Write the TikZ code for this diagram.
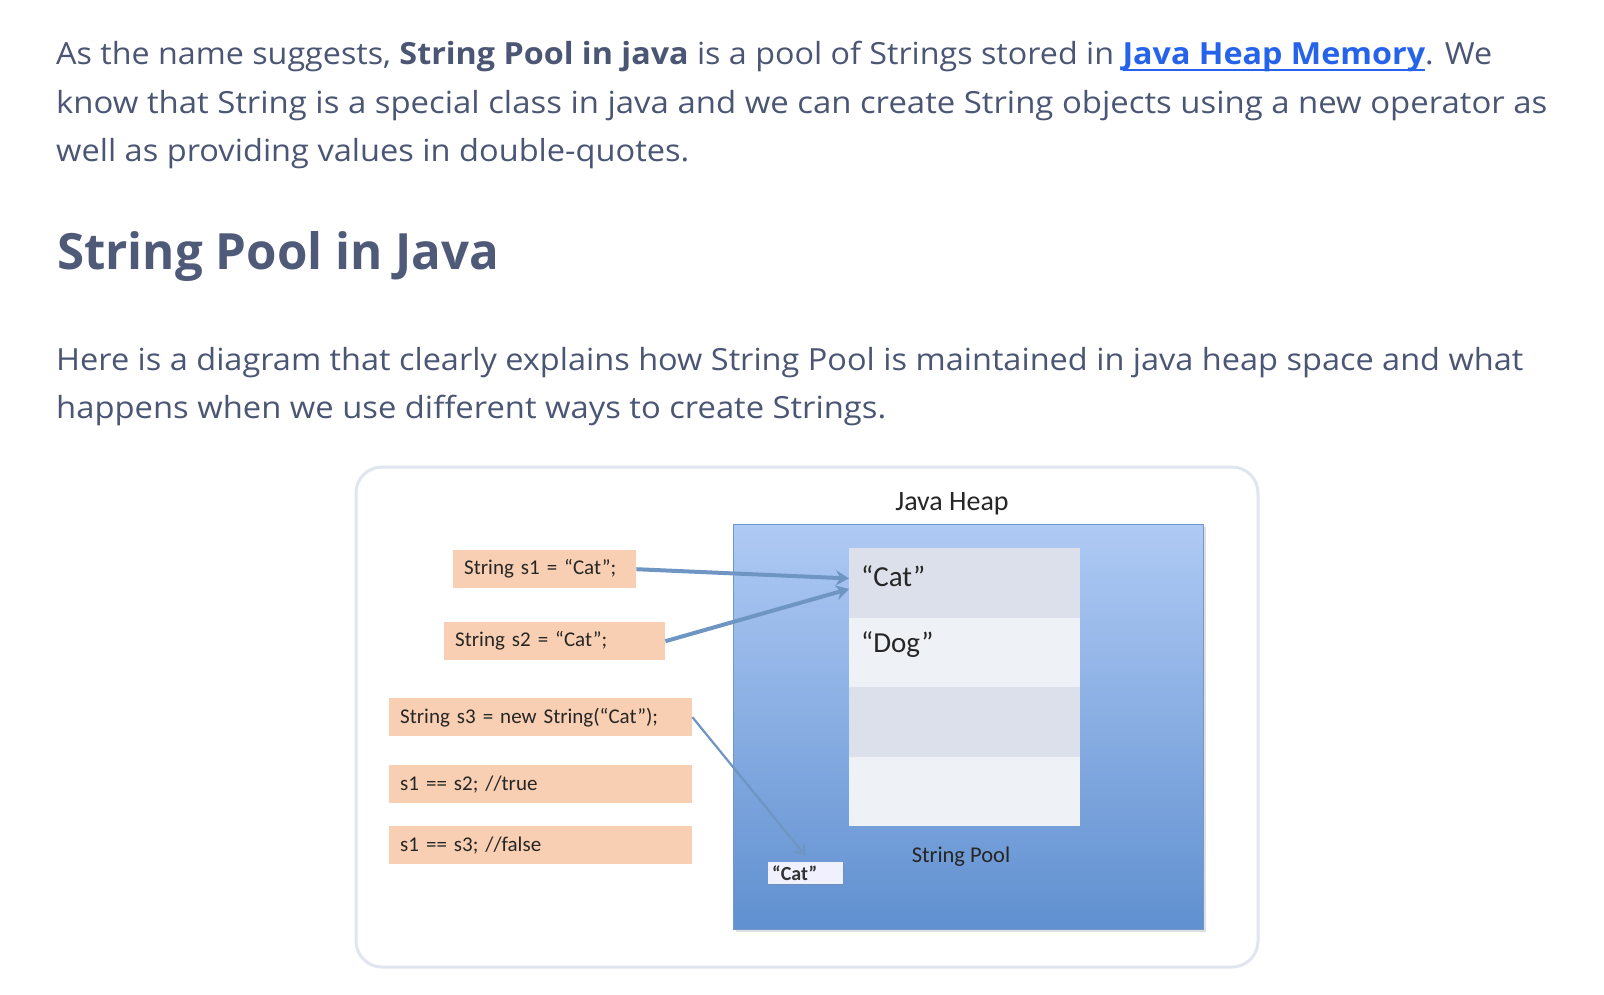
\documentclass[tikz,border=0pt]{standalone}
\usepackage{fontspec}
\usepackage{graphicx}
\setmainfont{Open Sans}
\newfontfamily\calfont{Carlito}
\usetikzlibrary{arrows.meta,shadows,calc}
\definecolor{bodytxt}{HTML}{4B5675}
\definecolor{headtxt}{HTML}{4F5A78}
\definecolor{linkblue}{HTML}{2563EB}
\definecolor{framec}{HTML}{E0E5EF}
\definecolor{peach}{HTML}{F8CFB2}
\definecolor{heaptop}{HTML}{AFCAF4}
\definecolor{heapbot}{HTML}{6090D0}
\definecolor{heapedge}{HTML}{7098CC}
\definecolor{rowdark}{HTML}{DCE0EA}
\definecolor{rowlight}{HTML}{EEF1F6}
\definecolor{arrowc}{HTML}{6F95C3}
\newcommand\linku[1]{\setbox0\hbox{#1}\rlap{\rule[-7pt]{\wd0}{2.5pt}}\box0}
\newcommand\fitw[2]{\resizebox{#1}{\height}{#2}}
\begin{document}
\begin{tikzpicture}[x=1pt,y=-1pt,
  bodyline/.style={anchor=base west, inner sep=0pt, text=bodytxt, font=\fontsize{30.5}{36}\selectfont},
  codebox/.style={anchor=north west, fill=peach, inner xsep=11pt, inner ysep=0pt, minimum height=38pt, align=left, font=\calfont\fontsize{21}{24}\selectfont, text=black!85},
  poolrow/.style={anchor=north west, minimum width=231pt, minimum height=69.5pt, inner sep=0pt},
  pooltxt/.style={anchor=west, inner sep=0pt, font=\calfont\fontsize{29}{34}\selectfont, text=black!85},
  arr/.style={draw=arrowc, line width=4pt, -{Stealth[length=13pt,width=15pt]}},
  thinarr/.style={draw=arrowc, line width=2.2pt, -{Straight Barb[length=8pt,width=11pt]}}
]
\useasboundingbox (0,0) rectangle (1604,994);
\fill[white] (0,0) rectangle (1604,994);
% text
\node[bodyline] (p1) at (56,64) {\fitw{1436pt}{As the name suggests, \textbf{String Pool in java} is a pool of Strings stored in \textcolor{linkblue}{\linku{\textbf{Java Heap Memory}}}. We}};
\node[bodyline] (p2) at (56,113) {\fitw{1491pt}{know that String is a special class in java and we can create String objects using a new operator as}};
\node[bodyline] (p3) at (56,161) {\fitw{633pt}{well as providing values in double-quotes.}};
\node[anchor=base west, inner sep=0pt, text=headtxt, font=\fontsize{50}{58}\selectfont\bfseries] (h) at (57,269) {\fitw{442pt}{String Pool in Java}};
\node[bodyline] (q1) at (56,370) {\fitw{1467pt}{Here is a diagram that clearly explains how String Pool is maintained in java heap space and what}};
\node[bodyline] (q2) at (56,418) {\fitw{830pt}{happens when we use different ways to create Strings.}};
% diagram frame
\draw[rounded corners=26pt, line width=3pt, draw=framec] (356,467) rectangle (1258,967);
\node[font=\calfont\fontsize{28}{32}\selectfont, text=black!85] (jh) at (952,504) {Java Heap};
\node[anchor=north west, minimum width=470pt, minimum height=405pt, top color=heaptop, bottom color=heapbot, draw=heapedge, line width=1.2pt, drop shadow={opacity=0.25, shadow xshift=2pt, shadow yshift=-2pt}] (heap) at (733,524) {};
\node[poolrow, fill=rowdark] (r1) at (849,548) {};
\node[poolrow, fill=rowlight] (r2) at (849,617.5) {};
\node[poolrow, fill=rowdark] (r3) at (849,687) {};
\node[poolrow, fill=rowlight] (r4) at (849,756.5) {};
\node[pooltxt] (tcat) at (861,576) {“Cat”};
\node[pooltxt] (tdog) at (861,645) {“Dog”};
\node[font=\calfont\fontsize{22.5}{26}\selectfont, text=black!85] (sp) at (961,857) {String Pool};
\node[anchor=north west, minimum width=75pt, minimum height=22pt, inner xsep=4pt, inner ysep=0pt, fill=white!94!blue, drop shadow={opacity=0.3, shadow xshift=1pt, shadow yshift=-1pt}, font=\calfont\bfseries\fontsize{20}{22}\selectfont, text=black!80, text width=67pt, align=left] (cat) at (768,862) {“Cat”};
% code boxes
\node[codebox, minimum width=183pt, text width=161pt] (s1) at (453,550) {String s1 = “Cat”;};
\node[codebox, minimum width=221pt, text width=199pt] (s2) at (444,622) {String s2 = “Cat”;};
\node[codebox, minimum width=303pt, text width=281pt] (s3) at (389,698) {String s3 = new String(“Cat”);};
\node[codebox, minimum width=303pt, text width=281pt] (e1) at (389,765) {s1 == s2; //true};
\node[codebox, minimum width=303pt, text width=281pt] (e2) at (389,826) {s1 == s3; //false};
% arrows
\draw[arr] (s1.east) -- ($(r1.west)+(0,-4.5)$);
\draw[arr] (s2.east) -- ($(r1.west)+(0,6)$);
\draw[thinarr] (s3.east) -- ($(cat.north)+(0,-6)$);
\end{tikzpicture}
\end{document}
